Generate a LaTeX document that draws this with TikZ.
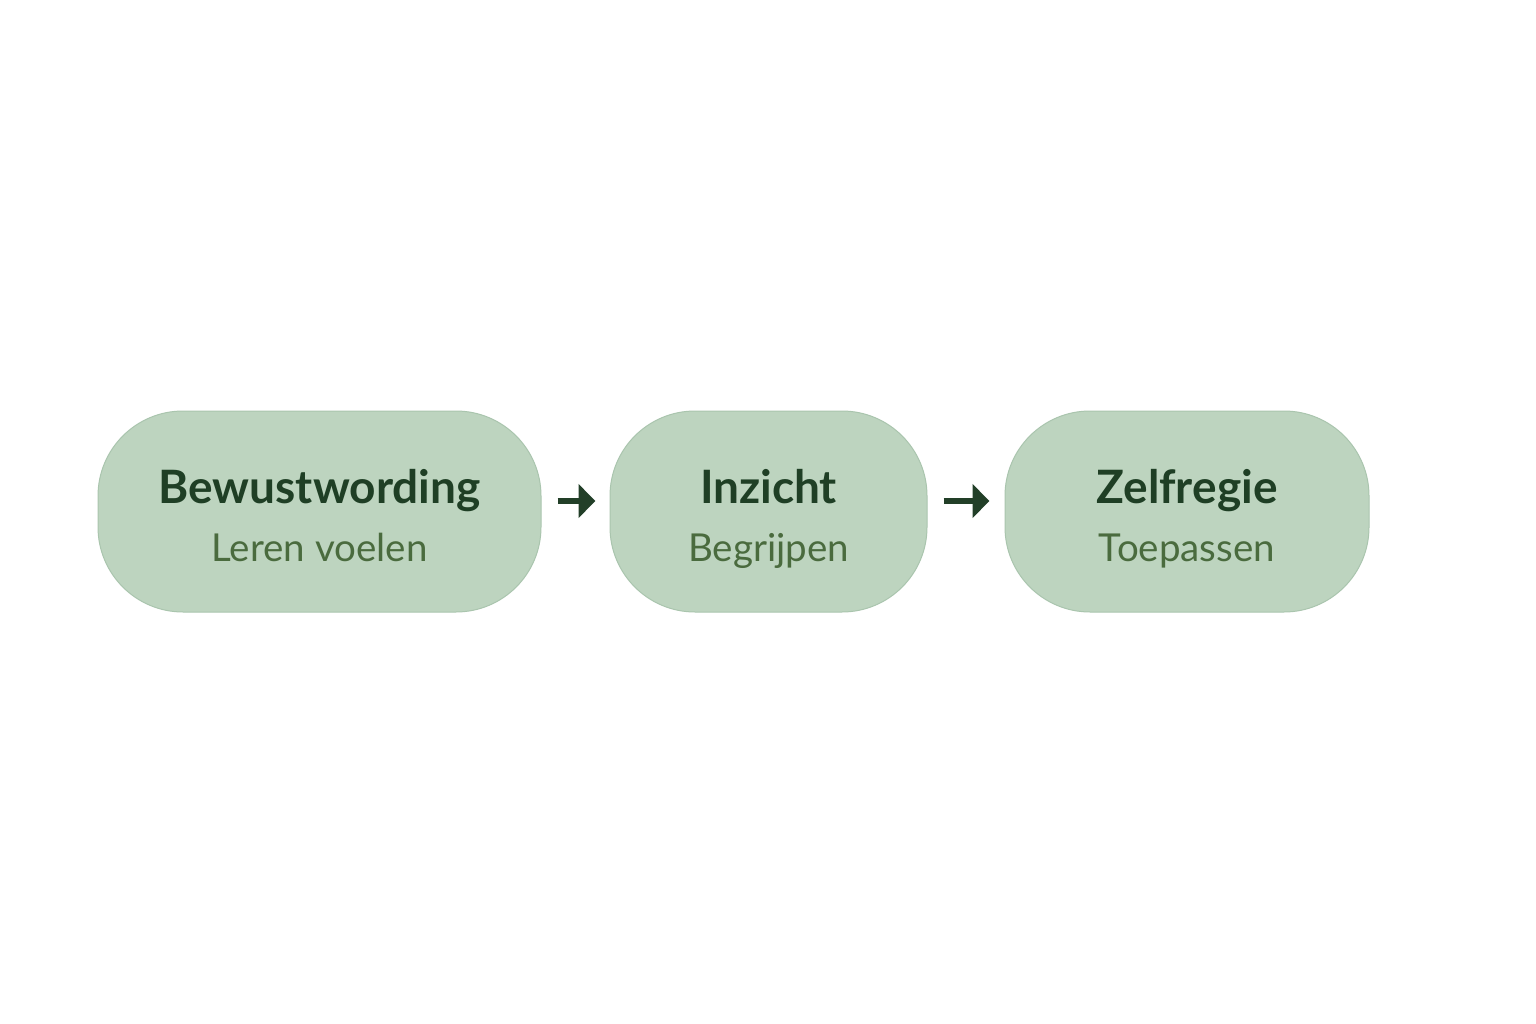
\documentclass[tikz,border=0pt]{standalone}
\usepackage{fontspec}
\setmainfont{Lato}
\usetikzlibrary{arrows.meta,positioning}

\definecolor{boxfill}{HTML}{BDD4BF}
\definecolor{boxline}{HTML}{AAC5AE}
\definecolor{titlegreen}{HTML}{1F3F25}
\definecolor{subgreen}{HTML}{4A6B3E}
\definecolor{arrowgreen}{HTML}{223F28}

\tikzset{
  stage/.style={draw=boxline, line width=1pt, fill=boxfill, rounded corners=85pt,
    minimum height=201pt, inner sep=0pt},
  title/.style={text=titlegreen, font=\fontsize{46}{52}\selectfont\bfseries, inner sep=0pt, anchor=base},
  subtitle/.style={text=subgreen, font=\fontsize{38.5}{44}\selectfont, inner sep=0pt, anchor=base},
  flow/.style={arrowgreen, line width=6pt, -{Triangle[length=17pt,width=33pt]}}
}

\begin{document}
\begin{tikzpicture}[x=1pt, y=-1pt]
  \useasboundingbox[fill=white] (0,0) rectangle (1536,1024);

  \node[stage, minimum width=443pt] (bewust) at (319.5, 511.5) {};
  \node[stage, minimum width=317pt] (inzicht) at (768.5, 511.5) {};
  \node[stage, minimum width=364pt] (regie) at (1187, 511.5) {};

  \node[title] (bewustT) at (319.5, 503) {Bewustwording};
  \node[subtitle] (bewustS) at (319.5, 561) {Leren voelen};
  \node[title] (inzichtT) at (768.5, 503) {Inzicht};
  \node[subtitle] (inzichtS) at (768.5, 561) {Begrijpen};
  \node[title] (regieT) at (1187, 503) {Zelfregie};
  \node[subtitle] (regieS) at (1187, 561) {Toepassen};

  \draw[flow, shorten <=16pt, shorten >=14pt] ([yshift=10.5]bewust.east) -- ([yshift=10.5]inzicht.west);
  \draw[flow, shorten <=16pt, shorten >=15pt] ([yshift=10.5]inzicht.east) -- ([yshift=10.5]regie.west);
\end{tikzpicture}
\end{document}
